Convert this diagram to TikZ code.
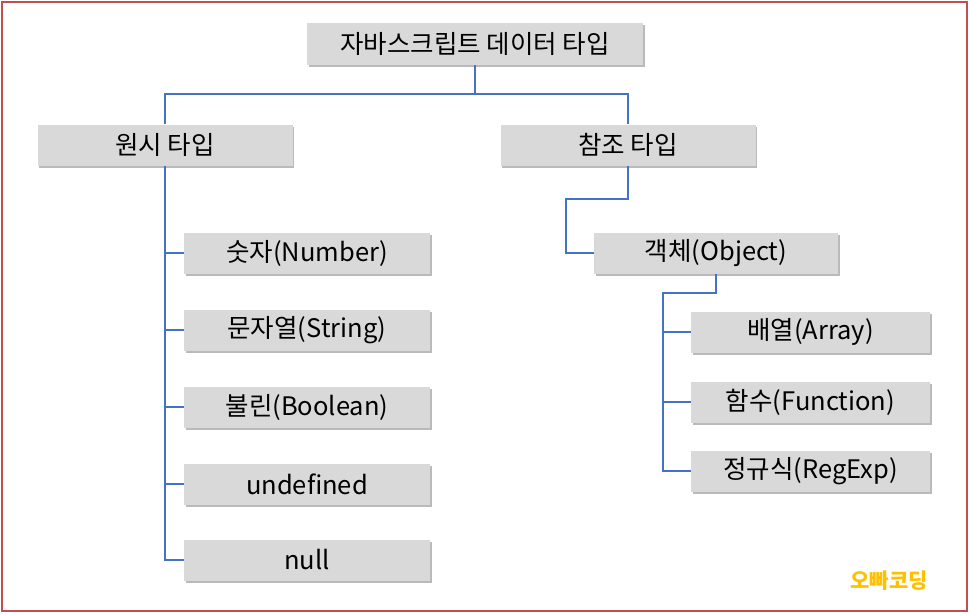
\documentclass[tikz,border=0pt]{standalone}
\usepackage{fontspec}
\setmainfont{Noto Sans CJK KR}
\usetikzlibrary{positioning,shadows}
\definecolor{boxgray}{HTML}{D9D9D9}
\definecolor{linkblue}{HTML}{4472C4}
\definecolor{framered}{HTML}{C0504D}
\definecolor{markgold}{HTML}{FFC000}
\begin{document}
\begin{tikzpicture}[x=1pt, y=1pt,
    typebox/.style={rectangle, fill=boxgray, inner sep=0pt, minimum height=41pt, font=\fontsize{25.5}{28}\selectfont,
        drop shadow={shadow xshift=1.5pt, shadow yshift=-2pt, opacity=0.45, fill=black!60}},
    link/.style={draw=linkblue, line width=1.8pt}]
    \useasboundingbox (0,0) rectangle (970,-614);
    \draw [framered, line width=2.5pt] (2,-2) rectangle (967,-611);

    \node [typebox, minimum width=336pt, minimum height=42pt] (jstype) at (475,-44) {자바스크립트 데이터 타입};
    \node [typebox, minimum width=255pt, below of=jstype, node distance=101pt, xshift=-310pt] (prim) {원시 타입};
    \node [typebox, minimum width=255pt, below of=jstype, node distance=101pt, xshift=153pt] (ref) {참조 타입};

    \node [typebox, minimum width=246pt, below of=prim, node distance=108pt, xshift=142pt] (num) {숫자(Number)};
    \node [typebox, minimum width=246pt, below of=num, node distance=77pt] (str) {문자열(String)};
    \node [typebox, minimum width=246pt, below of=str, node distance=77pt] (bool) {불린(Boolean)};
    \node [typebox, minimum width=246pt, below of=bool, node distance=77pt] (undef) {undefined};
    \node [typebox, minimum width=246pt, below of=undef, node distance=76pt] (null) {null};

    \node [typebox, minimum width=244pt, below of=ref, node distance=108pt, xshift=88pt] (obj) {객체(Object)};
    \node [typebox, minimum width=239pt, below of=obj, node distance=79pt, xshift=94.5pt] (arr) {배열(Array)};
    \node [typebox, minimum width=239pt, below of=arr, node distance=70pt] (func) {함수(Function)};
    \node [typebox, minimum width=239pt, below of=func, node distance=69pt] (regex) {정규식(RegExp)};

    \node [text=markgold, font=\fontsize{21}{23}\selectfont\bfseries] (mark) at (889,-581) {오빠코딩};

    \draw [link] (jstype.south) -- ++(0,-29pt) coordinate (split);
    \draw [link] (prim.north) |- (split) -| (ref.north);

    \draw [link] (prim.south) |- (null.west);
    \foreach \t in {num,str,bool,undef}
        \draw [link] (prim.south |- \t.west) -- (\t.west);

    \draw [link] (ref.south) -- ++(0,-33pt) -| ([xshift=-28pt]obj.west) -- (obj.west);

    \draw [link] (obj.south) -- ++(0,-19pt) -| ([xshift=-28pt]regex.west) -- (regex.west);
    \foreach \t in {arr,func}
        \draw [link] ([xshift=-28pt]\t.west) -- (\t.west);
\end{tikzpicture}
\end{document}
